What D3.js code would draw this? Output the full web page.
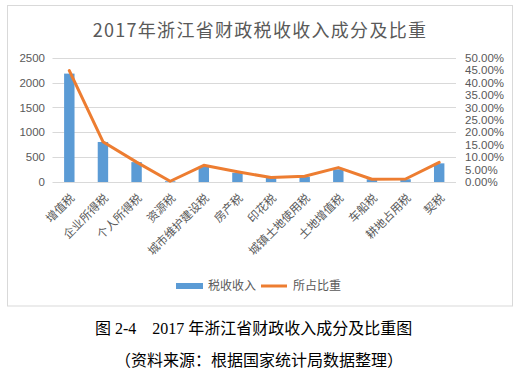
<!DOCTYPE html>
<html><head><meta charset="utf-8">
<script src="https://cdn.jsdelivr.net/npm/d3@7"></script>
<style>
body{margin:0;background:#fff;}
svg text{font-family:"Noto Sans CJK SC","Noto Sans",sans-serif;}
</style></head>
<body><svg id="c" width="521" height="382"></svg>
<script>
const categories = ["增值税","企业所得税","个人所得税","资源税","城市维护建设税","房产税","印花税","城镇土地使用税","土地增值税","车船税","耕地占用税","契税"];
const revenue = [2180, 805, 400, 15, 310, 185, 85, 105, 255, 55, 55, 375];
const share = [44.8, 16.2, 8.0, 0.3, 6.7, 4.1, 1.8, 2.3, 5.8, 1.1, 1.2, 7.9];
const leftTicks = [0, 500, 1000, 1500, 2000, 2500];
const rightTicks = [0,5,10,15,20,25,30,35,40,45,50];
const title = "2017年浙江省财政税收收入成分及比重";
const seriesNames = ["税收收入","所占比重"];
const caption1 = "图 2-4　2017 年浙江省财政收入成分及比重图";
const caption2 = "（资料来源：根据国家统计局数据整理）";

const svg = d3.select("#c");
const grey = "#595959";
// chart frame
svg.append("rect").attr("x",7.5).attr("y",5.5).attr("width",505).attr("height",300.5)
  .attr("fill","#fff").attr("stroke","#d9d9d9");

const x = d3.scaleBand().domain(categories).range([52.5,456]).paddingInner(0.69).paddingOuter(0.345);
const yL = d3.scaleLinear().domain([0,2500]).range([182,57.7]);
const yR = d3.scaleLinear().domain([0,50]).range([182,57.7]);

// gridlines
svg.append("g").selectAll("line").data(leftTicks).join("line")
  .attr("x1",52.5).attr("x2",456).attr("y1",d=>Math.round(yL(d))+0.5).attr("y2",d=>Math.round(yL(d))+0.5)
  .attr("stroke","#d9d9d9").attr("stroke-width",1);

// left axis
const gl = svg.append("g").attr("transform","translate(52,0)")
  .call(d3.axisLeft(yL).tickValues(leftTicks).tickSize(0).tickPadding(7).tickFormat(d3.format("d")));
gl.select(".domain").remove();
gl.selectAll("text").attr("fill",grey).style("font-family","Liberation Sans, Arial, sans-serif").style("font-size","11.5px");

// right axis
const gr = svg.append("g").attr("transform","translate(458,0)")
  .call(d3.axisRight(yR).tickValues(rightTicks).tickSize(0).tickPadding(7).tickFormat(d=>d.toFixed(2)+"%"));
gr.select(".domain").remove();
gr.selectAll("text").attr("fill",grey).style("font-family","Liberation Sans, Arial, sans-serif").style("font-size","11.5px");

// bars
svg.append("g").selectAll("rect").data(categories).join("rect")
  .attr("x",d=>x(d)).attr("width",x.bandwidth())
  .attr("y",(d,i)=>yL(revenue[i])).attr("height",(d,i)=>yL(0)-yL(revenue[i]))
  .attr("fill","#5b9bd5");

// line
const line = d3.line().x((d,i)=>x(categories[i])+x.bandwidth()/2).y(d=>yR(d));
svg.append("path").datum(share).attr("d",line).attr("fill","none")
  .attr("stroke","#ed7d31").attr("stroke-width",3).attr("stroke-linejoin","round").attr("stroke-linecap","round");

// category labels
svg.append("g").selectAll("text").data(categories).join("text")
  .attr("transform",d=>`translate(${x(d)+x.bandwidth()/2+3},196) rotate(-45)`)
  .attr("text-anchor","end").attr("dy","0.35em")
  .attr("fill",grey).style("font-size","11.5px").text(d=>d);

// title
svg.append("text").attr("x",260).attr("y",37).attr("text-anchor","middle")
  .attr("fill",grey).style("font-size","18px").style("letter-spacing","1.3px").text(title);

// legend
const lg = svg.append("g");
lg.append("rect").attr("x",176).attr("y",283).attr("width",27).attr("height",6).attr("fill","#5b9bd5");
lg.append("text").attr("x",208).attr("y",286).attr("dy","0.35em").attr("fill",grey).style("font-size","12px").text(seriesNames[0]);
lg.append("line").attr("x1",261).attr("x2",287).attr("y1",286).attr("y2",286).attr("stroke","#ed7d31").attr("stroke-width",3);
lg.append("text").attr("x",293).attr("y",286).attr("dy","0.35em").attr("fill",grey).style("font-size","12px").text(seriesNames[1]);

// captions
svg.append("text").attr("x",95).attr("y",334).attr("fill","#000")
  .style("font-family","Liberation Serif, 'Noto Sans CJK SC', serif").style("font-size","16px").text(caption1);
svg.append("text").attr("x",115).attr("y",366).attr("fill","#000")
  .style("font-family","Liberation Serif, 'Noto Sans CJK SC', serif").style("font-size","16px").text(caption2);
</script></body></html>
